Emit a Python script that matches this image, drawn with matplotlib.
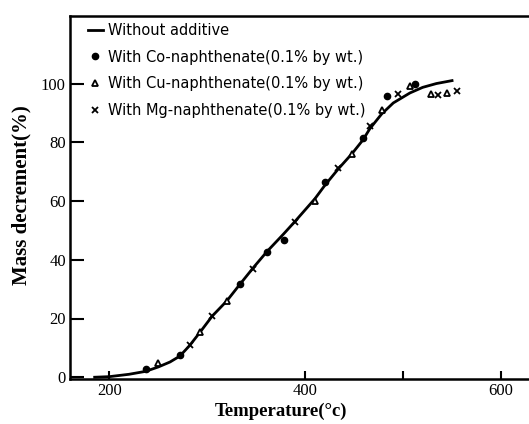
import matplotlib
matplotlib.use('Agg')
import matplotlib.pyplot as plt

# Data
curve_t = [185, 200, 220, 237, 250, 262, 272, 282, 293, 305, 320, 333, 347, 361,
           378, 390, 410, 420, 434, 448, 459, 466, 478, 490, 507, 520, 534, 550]
curve_m = [0, 0.2, 1.0, 2.0, 3.5, 5.2, 7.2, 10.8, 15.5, 20.8, 26.0, 31.5, 37.3, 42.8,
           48.8, 53.2, 60.8, 65.3, 71.0, 76.2, 80.8, 84.6, 89.6, 93.4, 96.8, 98.7, 100.0, 101.0]

co_t = [237, 272, 333.5, 361, 378, 420, 459.5, 484, 512]
co_m = [2.7, 7.6, 31.9, 42.6, 46.8, 66.5, 81.6, 95.7, 99.7]

cu_t = [250, 292.6, 320, 410, 447.6, 478, 507, 529, 545]
cu_m = [4.7, 15.5, 25.9, 60, 76, 91, 99.3, 96.3, 96.8]

mg_t = [282, 304.6, 347, 389.7, 434, 466, 495, 536, 555]
mg_m = [11, 21, 37, 52.8, 71.4, 85.5, 96.3, 96, 97.4]

x_ticks = [200, 400, 500, 600]
x_labels = ['200', '400', '', '600']
y_ticks = [0, 20, 40, 60, 80, 100]

fig = plt.figure(figsize=(5.29, 4.24), dpi=100)
ax = fig.add_axes([70 / 529, 1 - 379 / 424, 459 / 529, 363 / 424])

ax.plot(curve_t, curve_m, color='black', lw=2.0, label='Without additive')
ax.plot(co_t, co_m, 'o', color='black', ms=4.5, label='With Co-naphthenate(0.1% by wt.)')
ax.plot(cu_t, cu_m, '^', mfc='white', mec='black', mew=1.3, ms=5,
        label='With Cu-naphthenate(0.1% by wt.)')
ax.plot(mg_t, mg_m, 'x', color='black', mew=1.3, ms=5,
        label='With Mg-naphthenate(0.1% by wt.)')

ax.set_xlim(159.8, 628.6)
ax.set_ylim(-0.6, 123)

ax.set_xticks(x_ticks)
ax.set_xticklabels(x_labels)
ax.set_yticks(y_ticks)
ax.tick_params(axis='x', direction='in', length=6, width=1.5, pad=3)
ax.tick_params(axis='y', direction='in', length=10, width=1.5, pad=3)
for lab in ax.get_xticklabels() + ax.get_yticklabels():
    lab.set_family('Liberation Serif')
    lab.set_fontsize(12)

for side in ['left', 'bottom', 'top']:
    ax.spines[side].set_linewidth(1.8)
ax.spines['right'].set_visible(False)

ax.set_xlabel('Temperature(°c)', fontfamily='Liberation Serif',
              fontweight='bold', fontsize=13.5)
ax.xaxis.set_label_coords(0.46, -0.066)
ax.set_ylabel('Mass decrement(%)', fontfamily='Liberation Serif',
              fontweight='bold', fontsize=15)
ax.yaxis.set_label_coords(-0.085, 0.507)

leg = ax.legend(loc='upper left', bbox_to_anchor=(0.02, 1.005), frameon=False,
                prop={'family': 'DejaVu Sans', 'size': 10.5}, handlelength=1.0,
                handletextpad=0.4, labelspacing=0.8, borderaxespad=0.2)

fig.savefig('out.png', dpi=100)
